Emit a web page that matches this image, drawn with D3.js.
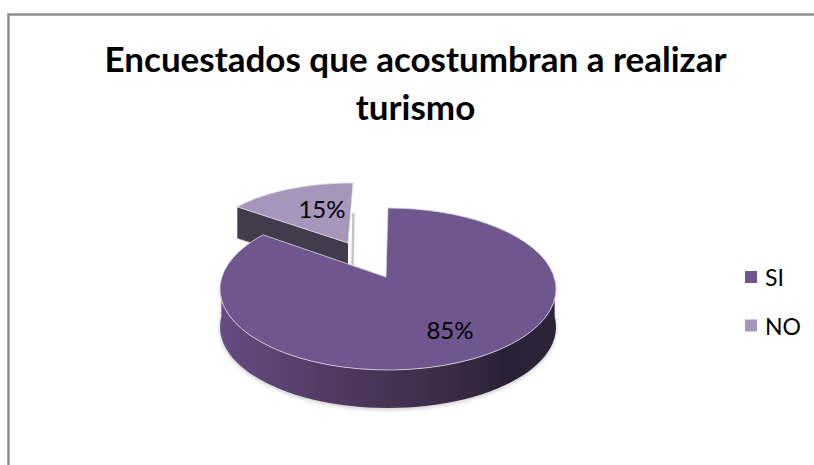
<!DOCTYPE html>
<html><head><meta charset="utf-8">
<script src="https://cdn.jsdelivr.net/npm/d3@7"></script>
<style>html,body{margin:0;padding:0;background:#fff}svg{display:block}text{font-family:Lato,sans-serif;fill:#000}</style>
</head><body><svg id="c" width="814" height="465"></svg>
<script>
const titleLines = ["Encuestados que acostumbran a realizar", "turismo"];
const categories = ["SI", "NO"];
const values = [85, 15];
const labels = ["85%", "15%"];
const topColors = ["#70568f", "#a696bc"];

const svg = d3.select("#c");
const defs = svg.append("defs");
const grad = defs.append("linearGradient").attr("id","side");
[[0,"#654c82"],[0.3,"#533c64"],[0.7,"#3a2a45"],[0.85,"#2b2136"],[1,"#2e2439"]].forEach(s=>
  grad.append("stop").attr("offset",s[0]).attr("stop-color",s[1]));
defs.append("filter").attr("id","blur").attr("x","-20%").attr("y","-20%").attr("width","140%").attr("height","140%")
  .append("feGaussianBlur").attr("stdDeviation",2);
defs.append("filter").attr("id","soft").attr("x","-200%").attr("width","500%")
  .append("feGaussianBlur").attr("stdDeviation",0.7);

// frame
svg.append("path").attr("d","M8.5,465V14.5H814").attr("fill","none").attr("stroke","#8f8f8f").attr("stroke-width",2.5);

// title
svg.append("g").selectAll("text").data(titleLines).join("text")
  .attr("x",415.5).attr("y",(d,i)=>72+i*47.5).attr("text-anchor","middle")
  .attr("font-size",35).attr("font-weight",700).text(d=>d);

// pie
const arcs = d3.pie().sort(null)(values);
const main = {cx:388, cy:289, rx:168, ry:81, ax:386, ay:277, depth:38, warp:7.4*Math.PI/180};
const off  = {cx:353, cy:241, rx:143, ry:58, ax:348, ay:243, depth:31, warp:0};
const proj = (g,a)=>{const t=a-g.warp*Math.sin(a);return [g.cx+g.rx*Math.sin(t), g.cy-g.ry*Math.cos(t)];};
const rimPts = (g,a0,a1)=>d3.range(0,61).map(i=>proj(g,a0+(a1-a0)*i/60));
const line = d3.line();

const sideMainPts = rimPts(main,Math.PI/2,Math.PI*1.5);
const sideMain = sideMainPts.concat(sideMainPts.slice().reverse().map(p=>[p[0],p[1]+main.depth]));
const pieG = svg.append("g");

// soft ground shadow around the main drum
pieG.append("path").attr("d",line(sideMain)+"Z").attr("fill","#999").attr("opacity",.55)
  .attr("filter","url(#blur)").attr("transform","translate(0,1.5)");

// exploded slice
const a1 = arcs[1];
const pLeft = proj(off,a1.startAngle), pApex=[off.ax,off.ay];
pieG.append("path").attr("d",line([[pLeft[0],pLeft[1]+off.depth],[pApex[0]+2,pApex[1]+off.depth]])).attr("stroke","#aaa").attr("stroke-width",2).attr("filter","url(#soft)");
pieG.append("path").attr("d",line([pLeft,pApex,[pApex[0],pApex[1]+off.depth],[pLeft[0],pLeft[1]+off.depth]])+"Z").attr("fill","#423b4b");
pieG.append("path").attr("d",line([[353.5,213],[352.5,265]])).attr("stroke","#c4c4c4").attr("stroke-width",2.5).attr("fill","none").attr("filter","url(#soft)");
pieG.append("path").attr("d",line([[pApex[0],pApex[1]]].concat(rimPts(off,a1.startAngle,a1.endAngle)))+"Z")
  .attr("fill",topColors[1]).attr("stroke","#ddd").attr("stroke-width",.8);

// main slice
pieG.append("path").attr("d",line([[384.5,238],[384.5,276]])).attr("stroke","#b5b5b5").attr("stroke-width",1.6).attr("fill","none").attr("filter","url(#soft)");
pieG.append("path").attr("d",line(sideMain)+"Z").attr("fill","url(#side)");
const a0 = arcs[0];
pieG.append("path").attr("d",line([[main.ax,main.ay]].concat(rimPts(main,a0.startAngle,a0.endAngle)))+"Z")
  .attr("fill",topColors[0]).attr("stroke","#d9d4e0").attr("stroke-width",.8);

// data labels
const labelPos = [[450,339],[322,218]];
pieG.selectAll("text.lab").data(labels).join("text").attr("class","lab")
  .attr("x",(d,i)=>labelPos[i][0]).attr("y",(d,i)=>labelPos[i][1]).attr("text-anchor","middle")
  .attr("font-size",24).text(d=>d);

// legend
const leg = svg.append("g").selectAll("g").data(categories).join("g")
  .attr("transform",(d,i)=>`translate(745,${271+i*48.5})`);
leg.append("rect").attr("x",0).attr("y",0).attr("width",12).attr("height",12).attr("fill",(d,i)=>topColors[i]);
leg.append("text").attr("x",20).attr("y",15).attr("font-size",23).text(d=>d);
</script></body></html>
